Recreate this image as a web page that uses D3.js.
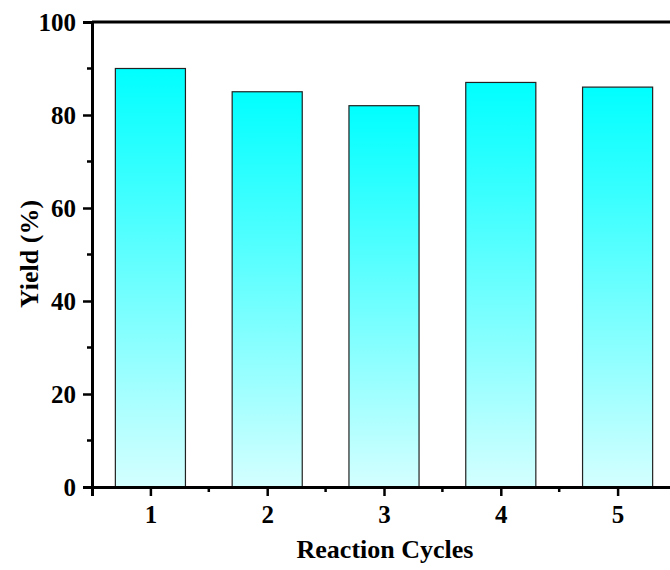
<!DOCTYPE html>
<html>
<head>
<meta charset="utf-8">
<script src="https://cdn.jsdelivr.net/npm/d3@7"></script>
<style>
  body { margin: 0; background: #fff; }
  text { font-family: "Liberation Serif", "Times New Roman", serif; font-weight: bold; }
</style>
</head>
<body>
<script>
// chart data
var cycles = [1, 2, 3, 4, 5];
var yields = [90, 85, 82, 87, 86];
var yTicks = [0, 20, 40, 60, 80, 100];
var yMinor = [10, 30, 50, 70, 90];
var xMinor = [1.5, 2.5, 3.5, 4.5, 5.5];

var W = 670, H = 570;
var plotLeft = 92, plotTop = 22, plotBottom = 487, plotRight = 676;

var svg = d3.select("body").append("svg")
  .attr("width", W)
  .attr("height", H);

var x = d3.scaleLinear().domain([0.5, 5.5]).range([plotLeft, plotRight]);
var y = d3.scaleLinear().domain([0, 100]).range([plotBottom, plotTop]);

// vertical gradient for bars
var grad = svg.append("defs").append("linearGradient")
  .attr("id", "barGrad")
  .attr("x1", 0).attr("y1", 0).attr("x2", 0).attr("y2", 1);
grad.append("stop").attr("offset", "0%").attr("stop-color", "#00ffff");
grad.append("stop").attr("offset", "100%").attr("stop-color", "#d4ffff");

var barW = x(1.6) - x(1);

// bars
svg.append("g").selectAll("rect")
  .data(yields)
  .enter().append("rect")
  .attr("x", (d, i) => x(cycles[i]) - barW / 2)
  .attr("y", d => y(d))
  .attr("width", barW)
  .attr("height", d => plotBottom - y(d))
  .attr("fill", "url(#barGrad)")
  .attr("stroke", "#222")
  .attr("stroke-width", 1.2);

// top frame line
svg.append("line")
  .attr("x1", plotLeft).attr("x2", plotRight)
  .attr("y1", plotTop).attr("y2", plotTop)
  .attr("stroke", "#000").attr("stroke-width", 3);

// y axis
var yAxis = svg.append("g")
  .attr("transform", "translate(" + plotLeft + ",0)")
  .call(d3.axisLeft(y).tickValues(yTicks).tickSize(9).tickPadding(7));
yAxis.append("g").attr("class", "minor").selectAll("line")
  .data(yMinor)
  .enter().append("line")
  .attr("x1", -5).attr("x2", 0)
  .attr("y1", d => y(d)).attr("y2", d => y(d));

// x axis
var xAxis = svg.append("g")
  .attr("transform", "translate(0," + plotBottom + ")")
  .call(d3.axisBottom(x).tickValues(cycles).tickFormat(d3.format("d")).tickSize(9).tickPadding(9));
xAxis.append("g").attr("class", "minor").selectAll("line")
  .data(xMinor)
  .enter().append("line")
  .attr("x1", d => x(d)).attr("x2", d => x(d))
  .attr("y1", 0).attr("y2", 5);

svg.selectAll(".domain").attr("stroke", "#000").attr("stroke-width", 3);
svg.selectAll(".tick line").attr("stroke", "#000").attr("stroke-width", 2.5);
svg.selectAll(".minor line").attr("stroke", "#000").attr("stroke-width", 2.5);
svg.selectAll(".tick text").attr("font-size", 25).attr("fill", "#000")
  .style("font-family", "'Liberation Serif', serif").style("font-weight", "bold");

// axis titles
svg.append("text")
  .attr("x", 385).attr("y", 558)
  .attr("text-anchor", "middle")
  .attr("font-size", 26)
  .text("Reaction Cycles");

svg.append("text")
  .attr("transform", "translate(38,254) rotate(-90)")
  .attr("text-anchor", "middle")
  .attr("font-size", 26)
  .text("Yield (%)");
</script>
</body>
</html>
